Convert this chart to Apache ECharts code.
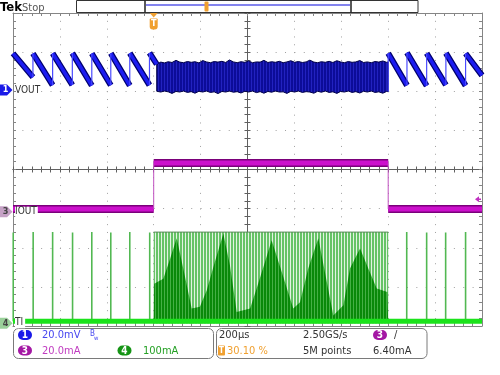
<!DOCTYPE html>
<html><head><meta charset="utf-8">
<script src="https://cdn.jsdelivr.net/npm/echarts@6/dist/echarts.min.js"></script>
<style>html,body{margin:0;padding:0;background:#fff}#c{width:500px;height:375px}</style>
</head><body><div id="c"></div>
<script>
// ---- Scope settings ----
const timeMin = -600, timeMax = 1400, timePerDiv = 200;   // µs, trigger at 0 (30.10 %)
const ch1Scale = 20,  ch1Pos = 2.03;    // mV/div, marker position (div)
const ch3Scale = 20,  ch3Pos = -1.08;   // mA/div
const ch4Scale = 100, ch4Pos = -3.93;   // mA/div
const trigLevel = 6.4;                   // mA on CH3

// ---- CH1 VOUT (mV) sawtooth ----
const vJumpsLeft   = [-600, -515, -431, -347, -264, -183, -102, -18];
const vRampEndLeft = [-515, -431, -347, -264, -183, -102, -18, 13];
const vPeaksLeft   = [18.8, 18.7, 18.8, 18.9, 18.7, 18.8, 18.9, 19.0];
const vTroughLeft  = [6.6, 2.5, 2.6, 2.3, 2.5, 2.3, 2.5, 13.2];
const vJumpsRight   = [1000, 1080, 1164, 1246, 1330];
const vRampEndRight = [1080, 1164, 1246, 1330, 1400];
const vPeaksRight   = [18.8, 19.1, 18.8, 18.9, 18.7];
const vTroughRight  = [2.4, 2.2, 2.6, 2.3, 7.5];
// burst band envelope (mV)
const bandTimes  = [13, 30, 46, 62, 78, 95, 111, 127, 144, 160, 176, 193, 209, 225, 242, 258, 274, 291, 307, 323, 340, 356, 372, 389, 405, 421, 438, 454, 470, 487, 503, 519, 536, 552, 568, 585, 601, 617, 634, 650, 666, 683, 699, 715, 732, 748, 764, 781, 797, 813, 830, 846, 862, 879, 895, 911, 928, 944, 960, 977, 993, 1000];
const bandTop    = [13.2, 14.3, 13.9, 14.5, 14.1, 15.2, 14.3, 14.0, 14.6, 14.2, 14.5, 13.9, 15.1, 14.4, 14.0, 14.6, 14.3, 14.7, 14.1, 15.4, 14.4, 14.0, 14.5, 14.2, 14.9, 14.0, 14.4, 14.3, 15.2, 14.1, 14.5, 14.2, 14.7, 14.0, 14.4, 15.0, 14.2, 14.6, 14.1, 14.4, 15.3, 14.3, 14.0, 14.5, 14.2, 14.7, 14.1, 15.0, 14.4, 14.0, 14.6, 14.2, 14.4, 15.1, 14.1, 14.4, 14.0, 14.6, 14.3, 14.9, 14.2, 14.4];
const bandBottom = [-0.6, -1.0, -0.5, -0.9, -1.7, -0.7, -1.0, -0.5, -1.2, -0.8, -1.6, -0.6, -1.0, -0.5, -1.2, -0.9, -1.8, -0.7, -1.0, -0.5, -1.1, -0.8, -1.5, -0.6, -1.0, -0.5, -1.3, -0.8, -1.6, -0.7, -1.1, -0.5, -1.0, -0.9, -1.7, -0.6, -1.0, -0.5, -1.2, -0.8, -1.0, -1.6, -0.6, -1.1, -0.5, -1.2, -0.9, -1.7, -0.7, -1.0, -0.5, -1.2, -0.8, -1.5, -0.6, -1.0, -0.5, -1.2, -0.9, -1.6, -0.7, -0.8];

// ---- CH3 IOUT (mA) ----
const ioLow = 1.4, ioHigh = 24.9;
const ioEdges = [0, 1000];

// ---- CH4 (mA) ----
const baseLevel = 5;
const pulseTimesLeft  = [-599, -514, -431, -346, -264, -183, -102, -17];
const pulseTopLeft    = [232, 233, 233, 232, 233, 232, 233, 232];
const pulseTimesRight = [1079, 1164, 1245, 1330];
const pulseTopRight   = [233, 232, 232, 233];
const burstStart = 0, burstEnd = 1000, burstTop = 233;
const humpTimes = [0, 2, 41, 70, 98, 126, 162, 197, 226, 261, 297, 325, 354, 411, 439, 475, 503, 546, 595, 624, 659, 702, 738, 766, 809, 837, 880, 915, 951, 996, 1000];
const humpVals  = [0, 101, 114, 165, 217, 140, 38, 42, 84, 157, 229, 148, 29, 38, 89, 157, 212, 131, 38, 54, 140, 217, 106, 20, 46, 140, 191, 140, 89, 80, 0];

// ---------------------------------------------------------------
const FONT = "'Liberation Sans Narrow','DejaVu Sans Condensed','Liberation Sans',sans-serif";
const gridCol = '#a0a0a0', borderCol = '#858585', centerCol = '#606060';
const B = null;

function stripes(colA, wA, colB, wB){
  const c = document.createElement('canvas'); c.width = wA + wB; c.height = 4;
  const ctx = c.getContext('2d');
  ctx.fillStyle = colA; ctx.fillRect(0, 0, wA, 4);
  ctx.fillStyle = colB; ctx.fillRect(wA, 0, wB, 4);
  return {image:c, repeat:'repeat'};
}

function ramps(st, en, pk, tr){ const d=[]; for(let i=0;i<st.length;i++){ d.push([st[i],pk[i]],[en[i],tr[i]],[en[i],B]); } return d; }
function jumps(st, pk, prev){ const d=[]; for(let i=0;i<st.length;i++){ if(prev[i]==null) continue; d.push([st[i],prev[i]],[st[i],pk[i]],[st[i],B]); } return d; }
function pulses(ts, tops, base){ const d=[]; for(let i=0;i<ts.length;i++){ d.push([ts[i],base],[ts[i],tops[i]],[ts[i],B]); } return d; }

const rampData = ramps(vJumpsLeft, vRampEndLeft, vPeaksLeft, vTroughLeft).concat(ramps(vJumpsRight, vRampEndRight, vPeaksRight, vTroughRight));
const jumpData = jumps(vJumpsLeft, vPeaksLeft, [null].concat(vTroughLeft.slice(0,-1)))
  .concat(jumps(vJumpsRight, vPeaksRight, [bandBottom[bandBottom.length-1]].concat(vTroughRight.slice(0,-1))));

const chart = echarts.init(document.getElementById('c'));

function divAxis(extra, lo, hi){
  return Object.assign({type:'value', min:lo, max:hi, interval:1, axisLabel:{show:false}, splitLine:{show:false}}, extra);
}
const tickStyle = (inside, col) => ({show:true, inside, length:3, lineStyle:{color:col, width:1}});
const minorStyle = (col) => ({show:true, splitNumber:5, length:3, lineStyle:{color:col, width:1}});

const bandFill = stripes('#0c0c98', 2, '#2222c0', 1);
function bandRender(params, api){
  if (params.dataIndex !== 0) return null;
  const pts = [];
  for (let i=0;i<bandTimes.length;i++) pts.push(api.coord([bandTimes[i], bandTop[i]]));
  for (let i=bandTimes.length-1;i>=0;i--) pts.push(api.coord([bandTimes[i], bandBottom[i]]));
  return {type:'polygon', shape:{points:pts}, style:{fill:bandFill, stroke:'#000046', lineWidth:1}};
}

const option = {
  animation:false,
  grid:{left:13, top:13, width:469, height:313, containLabel:false},
  xAxis:[
    {type:'value', min:timeMin, max:timeMax, interval:timePerDiv, position:'bottom',
     axisLabel:{show:false}, axisLine:{show:true, onZero:false, lineStyle:{color:borderCol}},
     axisTick:tickStyle(true,borderCol), minorTick:minorStyle(borderCol),
     splitLine:{show:true, lineStyle:{color:gridCol, width:1, type:[1,6.82]}}},
    divAxis({position:'top', axisLine:{show:true, onZero:false, lineStyle:{color:borderCol}}, axisTick:tickStyle(true,borderCol), minorTick:minorStyle(borderCol)}, -5, 5),
    divAxis({position:'bottom', axisLine:{show:true, onZero:true, onZeroAxisIndex:0, lineStyle:{color:centerCol}}, axisTick:tickStyle(true,centerCol), minorTick:minorStyle(centerCol)}, -5, 5),
    divAxis({position:'bottom', axisLine:{show:true, onZero:true, onZeroAxisIndex:0, lineStyle:{color:centerCol}}, axisTick:tickStyle(false,centerCol), minorTick:minorStyle(centerCol)}, -5, 5)
  ],
  yAxis:[
    divAxis({position:'left', axisLine:{show:true, onZero:false, lineStyle:{color:borderCol}}, axisTick:tickStyle(true,borderCol), minorTick:minorStyle(borderCol),
      splitLine:{show:true, lineStyle:{color:gridCol, width:1, type:[1,8.38]}}}, -4, 4),
    divAxis({position:'right', axisLine:{show:true, onZero:false, lineStyle:{color:borderCol}}, axisTick:tickStyle(true,borderCol), minorTick:minorStyle(borderCol)}, -4, 4),
    divAxis({position:'left', axisLine:{show:true, onZero:true, onZeroAxisIndex:1, lineStyle:{color:centerCol}}, axisTick:tickStyle(true,centerCol), minorTick:minorStyle(centerCol)}, -4, 4),
    divAxis({position:'left', axisLine:{show:true, onZero:true, onZeroAxisIndex:1, lineStyle:{color:centerCol}}, axisTick:tickStyle(false,centerCol), minorTick:minorStyle(centerCol)}, -4, 4),
    {type:'value', show:false, min:(-4-ch1Pos)*ch1Scale, max:(4-ch1Pos)*ch1Scale},
    {type:'value', show:false, min:(-4-ch3Pos)*ch3Scale, max:(4-ch3Pos)*ch3Scale},
    {type:'value', show:false, min:(-4-ch4Pos)*ch4Scale, max:(4-ch4Pos)*ch4Scale}
  ],
  series:[
    // CH4 burst of switching pulses
    {type:'line', yAxisIndex:6, symbol:'none', data:[[burstStart,burstTop],[burstEnd,burstTop]],
     lineStyle:{color:'#5a8a5a', width:1}, areaStyle:{color:stripes('#66c366', 2, '#e2f3e2', 1), opacity:1}, z:1},
    {type:'line', yAxisIndex:6, symbol:'none', data:humpTimes.map((t,i)=>[t,humpVals[i]]),
     lineStyle:{width:0}, areaStyle:{color:stripes('#098909', 2, '#45b045', 1), opacity:1}, z:2},
    {type:'line', yAxisIndex:6, symbol:'none', data:pulses(pulseTimesLeft,pulseTopLeft,baseLevel).concat(pulses(pulseTimesRight,pulseTopRight,baseLevel)),
     lineStyle:{color:'#52b852', width:1.6}, z:3},
    {type:'line', yAxisIndex:6, symbol:'none', data:[[timeMin,baseLevel],[timeMax,baseLevel]],
     lineStyle:{color:'#1be31b', width:5}, z:4},
    // CH3 IOUT
    {type:'line', yAxisIndex:5, symbol:'none', data:[[timeMin,ioLow],[ioEdges[0],ioLow],[ioEdges[0],B],[ioEdges[0],ioHigh],[ioEdges[1],ioHigh],[ioEdges[1],B],[ioEdges[1],ioLow],[timeMax,ioLow]],
     lineStyle:{color:'#7a007a', width:8}, z:5},
    {type:'line', yAxisIndex:5, symbol:'none', data:[[timeMin,ioLow],[ioEdges[0],ioLow],[ioEdges[0],B],[ioEdges[0],ioHigh],[ioEdges[1],ioHigh],[ioEdges[1],B],[ioEdges[1],ioLow],[timeMax,ioLow]],
     lineStyle:{color:'#cc10cc', width:5}, z:6},
    {type:'line', yAxisIndex:5, symbol:'none', data:[[ioEdges[0],ioLow],[ioEdges[0],ioHigh],[ioEdges[0],B],[ioEdges[1],ioHigh],[ioEdges[1],ioLow]],
     lineStyle:{color:'#c050c0', width:1}, z:6},
    // CH1 VOUT burst band
    {type:'custom', yAxisIndex:4, renderItem:bandRender, data:[[bandTimes[0], bandBottom[0]]], z:7, clip:true},
    // CH1 VOUT sawtooth
    {type:'line', yAxisIndex:4, symbol:'none', data:rampData, lineStyle:{color:'#00006e', width:6}, z:8},
    {type:'line', yAxisIndex:4, symbol:'none', data:rampData, lineStyle:{color:'#1c1cf0', width:3.5}, z:9},
    {type:'line', yAxisIndex:4, symbol:'none', data:jumpData, lineStyle:{color:'#4a4aff', width:1.2}, z:10}
  ]
};
chart.setOption(option);

// ---- decorations positioned through the axes ----
const y1 = chart.convertToPixel({yAxisIndex:4}, 0);
const y3 = chart.convertToPixel({yAxisIndex:5}, 0);
const y4 = chart.convertToPixel({yAxisIndex:6}, 0);
const xT = chart.convertToPixel({xAxisIndex:0}, 0);
const yTrig = chart.convertToPixel({yAxisIndex:5}, trigLevel);
const xRight = chart.convertToPixel({xAxisIndex:0}, timeMax);

function marker(y, fill, tc, lab){
  return [
    {type:'polygon', shape:{points:[[0,y-5.5],[7,y-5.5],[12.5,y],[7,y+5.5],[0,y+5.5]]}, style:{fill}, z:100},
    {type:'text', x:5.5, y:y, style:{text:lab, fill:tc, font:'bold 9px '+FONT, align:'center', verticalAlign:'middle'}, z:101}
  ];
}
function badge(cx, cy, fill, lab){
  return [
    {type:'rect', shape:{x:cx-7, y:cy-5, width:14, height:10, r:5}, style:{fill}, z:100},
    {type:'text', x:cx, y:cy+0.5, style:{text:lab, fill:'#fff', font:'bold 10px '+FONT, align:'center', verticalAlign:'middle'}, z:101}
  ];
}
function txt(x, y, s, col, size, extra){
  return Object.assign({type:'text', x, y, style:{text:s, fill:col, font:(size||11)+'px '+FONT, verticalAlign:'middle'}, z:101}, extra||{});
}
const g = [];
// header
g.push({type:'text', x:0, y:8, style:{text:'Tek', fill:'#000', font:'bold 13px '+FONT, verticalAlign:'middle'}, z:101});
g.push(txt(22, 8, 'Stop', '#555', 11));
g.push({type:'rect', shape:{x:76.5, y:0.5, width:341.5, height:12}, style:{fill:'#fff', stroke:'#333', lineWidth:1}, z:100});
g.push({type:'line', shape:{x1:145, y1:0.5, x2:145, y2:12.5}, style:{stroke:'#222', lineWidth:1.5}, z:101});
g.push({type:'line', shape:{x1:351, y1:0.5, x2:351, y2:12.5}, style:{stroke:'#222', lineWidth:1.5}, z:101});
g.push({type:'line', shape:{x1:146, y1:5, x2:350, y2:5}, style:{stroke:'#8484ee', lineWidth:2}, z:101});
g.push({type:'rect', shape:{x:204.5, y:1.5, width:4, height:10, r:1}, style:{fill:'#f0a030'}, z:102});
// trigger pin
g.push({type:'polygon', shape:{points:[[xT-4,13],[xT+4,13],[xT,17.5]]}, style:{fill:'#f0a030'}, z:100});
g.push({type:'rect', shape:{x:xT-4, y:18.5, width:8, height:11, r:[1,1,3,3]}, style:{fill:'#f0a030'}, z:100});
g.push({type:'text', x:xT, y:24, style:{text:'T', fill:'#fff', font:'bold 9px '+FONT, align:'center', verticalAlign:'middle'}, z:101});
// channel markers + labels
g.push(...marker(y1, '#1a1ae8', '#fff', '1'));
g.push(txt(15, y1, 'VOUT', '#333', 10, {style:{text:'VOUT', fill:'#333', font:'10px '+FONT, verticalAlign:'middle'}}));
g.push(...marker(y3, '#c6a2c6', '#444', '3'));
g.push(txt(15, y3, 'IOUT', '#333', 10, {style:{text:'IOUT', fill:'#333', font:'10px '+FONT, verticalAlign:'middle', backgroundColor:'#fff', padding:[0,1,0,0]}}));
g.push(...marker(y4, '#9ad09a', '#444', '4'));
g.push(txt(15, y4-1, 'TI', '#333', 10, {style:{text:'TI', fill:'#333', font:'10px '+FONT, verticalAlign:'middle', backgroundColor:'#fff', padding:[1,2,1,0]}}));
// trigger level arrow (right edge)
g.push({type:'polygon', shape:{points:[[xRight-7,yTrig],[xRight-3,yTrig-3],[xRight-3,yTrig+3]]}, style:{fill:'#c030c0'}, z:100});
g.push({type:'line', shape:{x1:xRight-4, y1:yTrig, x2:xRight-1, y2:yTrig}, style:{stroke:'#c030c0', lineWidth:1.5}, z:100});
// bottom panels
g.push({type:'rect', shape:{x:13.5, y:328.5, width:200, height:30, r:5}, style:{fill:'#fff', stroke:'#7a7a7a', lineWidth:1}, z:99});
g.push({type:'rect', shape:{x:216.5, y:328.5, width:210.5, height:30, r:5}, style:{fill:'#fff', stroke:'#7a7a7a', lineWidth:1}, z:99});
g.push(...badge(25, 335, '#1a1ae8', '1'));
g.push(txt(42, 335.5, '20.0mV', '#4646f0', 11));
g.push(txt(90, 333.5, 'B', '#4646f0', 8));
g.push(txt(94, 338, 'w', '#4646f0', 6));
g.push(...badge(25, 350.5, '#a418a4', '3'));
g.push(txt(42, 351, '20.0mA', '#c03cc0', 11));
g.push(...badge(124.5, 350.5, '#159415', '4'));
g.push(txt(143, 351, '100mA', '#24a024', 11));
g.push(txt(219, 335.5, '200µs', '#333', 11));
g.push({type:'rect', shape:{x:218, y:345.5, width:7, height:10, r:1}, style:{fill:'#f0a030'}, z:100});
g.push({type:'text', x:221.5, y:351, style:{text:'T', fill:'#fff', font:'bold 8px '+FONT, align:'center', verticalAlign:'middle'}, z:101});
g.push(txt(227, 351, '30.10 %', '#f0a030', 11));
g.push(txt(303, 335.5, '2.50GS/s', '#333', 11));
g.push(txt(303, 351, '5M points', '#333', 11));
g.push(...badge(380, 335, '#a418a4', '3'));
g.push(txt(394, 335.5, '/', '#333', 11));
g.push(txt(373, 351, '6.40mA', '#333', 11));

chart.setOption({graphic:{elements:g}});
</script>
</body></html>
